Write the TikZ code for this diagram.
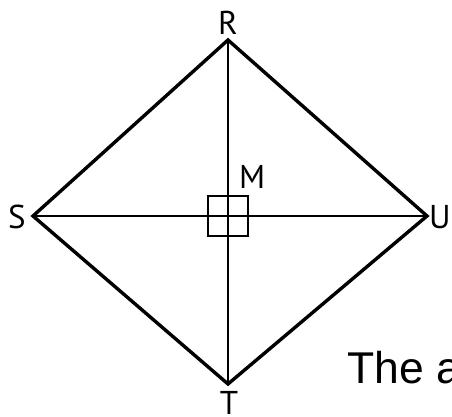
\documentclass[tikz,border=0pt]{standalone}
\usepackage{fontspec}
\setmainfont{Liberation Sans}
\newfontfamily\labelfont{PT Sans}
\begin{document}
\begin{tikzpicture}[x=1pt,y=-1pt,
  vlabel/.style={inner sep=0pt,font=\labelfont\fontsize{33}{36}\selectfont},
  outer/.style={line width=3.4pt,line join=miter},
  diag/.style={line width=2.2pt},
  rightsq/.style={line width=1.8pt}]
\useasboundingbox (0,0) rectangle (452,417);
\coordinate (R) at (228,40);
\coordinate (S) at (33,216);
\coordinate (U) at (427,216);
\coordinate (T) at (228,384);
\coordinate (M) at (228,216);
\draw[diag] (R) -- (T);
\draw[diag] (S) -- (U);
\draw[outer] (R) -- (U) -- (T) -- (S) -- cycle;
\draw[rightsq] ([shift={(-20,-20)}]M) rectangle ([shift={(20,20)}]M);
\node[vlabel,anchor=base] (lR) at (228,35) {R};
\node[vlabel,anchor=base] (lS) at (17,228) {S};
\node[vlabel,anchor=base west] (lU) at (429,228) {U};
\node[vlabel,anchor=base west] (lM) at (239,188) {M};
\node[vlabel,anchor=base] (lT) at (229,414) {T};
\node[inner sep=0pt,anchor=base west,font=\fontsize{44.5}{50}\selectfont] (cap) at (347,383) {The a};
\end{tikzpicture}
\end{document}
